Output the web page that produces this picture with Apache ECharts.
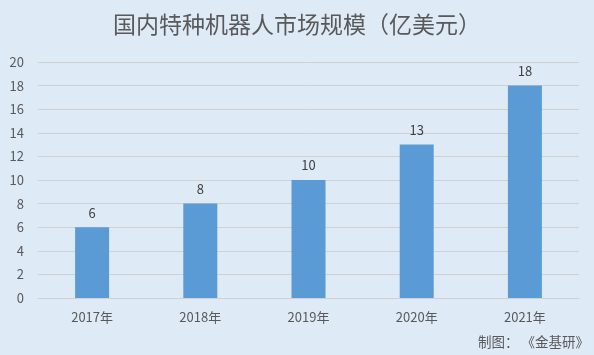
<!DOCTYPE html>
<html>
<head>
<meta charset="utf-8">
<style>
html, body {margin: 0; padding: 0; background: #deeaf6;}
#main {width: 594px; height: 355px;}
</style>
</head>
<body>
<div id="main"></div>
<script src="https://cdn.jsdelivr.net/npm/echarts@6/dist/echarts.min.js"></script>
<script>
var years = ['2017年', '2018年', '2019年', '2020年', '2021年'];
var marketSize = [6, 8, 10, 13, 18];
var yTicks = [0, 2, 4, 6, 8, 10, 12, 14, 16, 18, 20];

var chart = echarts.init(document.getElementById('main'));
var font = '"Noto Sans CJK SC", "Microsoft YaHei", sans-serif';

chart.setOption({
    backgroundColor: '#deeaf6',
    textStyle: {fontFamily: font},
    title: {
        text: '国内特种机器人市场规模（亿美元）',
        left: 'center',
        top: 8,
        textStyle: {color: '#595959', fontSize: 23, fontWeight: 'normal', fontFamily: font}
    },
    graphic: [{
        type: 'text',
        right: 5,
        top: 335,
        style: {text: '制图： 《金基研》', fill: '#595959', font: '13.5px ' + font}
    }],
    grid: {left: 38, right: 15, top: 62, bottom: 57},
    xAxis: {
        type: 'category',
        data: years,
        axisLine: {lineStyle: {color: '#d0d0d0'}},
        axisTick: {show: false},
        axisLabel: {color: '#595959', fontSize: 13, margin: 13}
    },
    yAxis: {
        type: 'value',
        min: yTicks[0],
        max: yTicks[yTicks.length - 1],
        interval: 2,
        axisLine: {show: false},
        axisTick: {show: false},
        splitLine: {lineStyle: {color: '#d0d0d0'}},
        axisLabel: {color: '#595959', fontSize: 13, margin: 14}
    },
    series: [{
        type: 'bar',
        data: marketSize,
        barWidth: 34,
        itemStyle: {color: '#5b9bd5'},
        label: {show: true, position: 'top', distance: 8, color: '#404040', fontSize: 13}
    }]
});
</script>
</body>
</html>
